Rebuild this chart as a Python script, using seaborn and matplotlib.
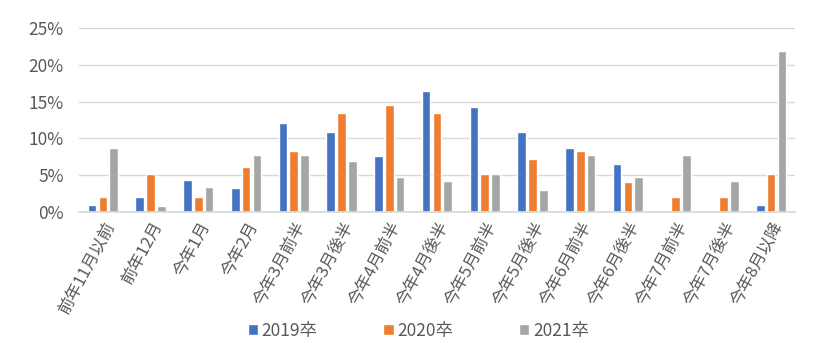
import pandas as pd
import matplotlib
matplotlib.use("Agg")
import matplotlib.pyplot as plt
import seaborn as sns
from matplotlib.ticker import PercentFormatter

categories = [
    "前年11月以前", "前年12月", "今年1月", "今年2月", "今年3月前半",
    "今年3月後半", "今年4月前半", "今年4月後半", "今年5月前半", "今年5月後半",
    "今年6月前半", "今年6月後半", "今年7月前半", "今年7月後半", "今年8月以降",
]
series = ["2019卒", "2020卒", "2021卒"]
v2019 = [0.95, 2.0, 4.35, 3.3, 12.1, 10.9, 7.6, 16.45, 14.3, 10.9, 8.7, 6.5, 0.0, 0.0, 0.95]
v2020 = [2.05, 5.2, 2.05, 6.15, 8.3, 13.5, 14.55, 13.5, 5.2, 7.2, 8.3, 4.1, 2.05, 2.05, 5.2]
v2021 = [8.7, 0.85, 3.4, 7.75, 7.75, 6.95, 4.75, 4.2, 5.2, 3.0, 7.75, 4.75, 7.75, 4.2, 21.9]
colors = ["#4472C4", "#ED7D31", "#A5A5A5"]

df = pd.DataFrame({
    "cat": categories * 3,
    "year": [s for s in series for _ in categories],
    "val": v2019 + v2020 + v2021,
})

sns.set_theme(style="white")
plt.rcParams["font.family"] = ["Noto Sans CJK JP", "DejaVu Sans"]

fig = plt.figure(figsize=(8.2, 3.52), dpi=100)
ax = fig.add_axes([0.0963, 0.3977, 0.8732, 0.5228])
sns.barplot(data=df, x="cat", y="val", hue="year", palette=colors,
            saturation=1, width=0.68, gap=0.2, ax=ax, legend=True)

ax.set_ylim(0, 25)
ax.set_yticks(range(0, 26, 5))
ax.yaxis.set_major_formatter(PercentFormatter(decimals=0))
ax.grid(axis="y", color="#D9D9D9", linewidth=1)
ax.set_axisbelow(True)
for s in ["top", "right", "left"]:
    ax.spines[s].set_visible(False)
ax.spines["bottom"].set_color("#D9D9D9")
ax.set_xlabel("")
ax.set_ylabel("")
ax.tick_params(axis="y", colors="#595959", labelsize=12.5, length=0, pad=11)
ax.tick_params(axis="x", colors="#595959", labelsize=12, length=0, pad=5)
plt.setp(ax.get_xticklabels(), rotation=62, ha="right", rotation_mode="anchor")
ax.set_xlim(-0.5, len(categories) - 0.5)

handles, labels = ax.get_legend_handles_labels()
ax.get_legend().remove()
fig.legend(handles, labels, loc="lower center", bbox_to_anchor=(0.51, -0.01),
           ncol=3, frameon=False, handlelength=0.6, handleheight=0.6,
           handletextpad=0.2, columnspacing=3.8, labelcolor="#595959",
           fontsize=12.5)

fig.savefig("out.png", dpi=100)
